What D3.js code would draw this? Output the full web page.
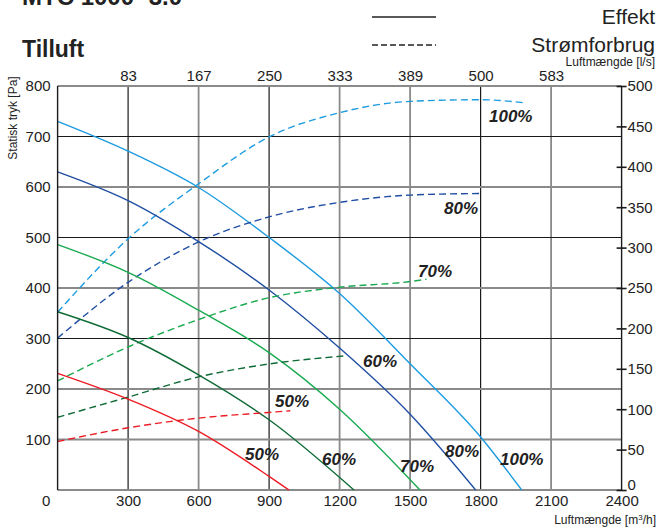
<!DOCTYPE html>
<html>
<head>
<meta charset="utf-8">
<script src="https://cdn.jsdelivr.net/npm/d3@7"></script>
<style>
  body { margin: 0; background: #fff; }
  svg text { font-family: "Liberation Sans", Arial, sans-serif; fill: #222; }
</style>
</head>
<body>
<div id="chart"></div>
<script>
// airflow in m3/h, pressure in Pa, power in W
var pressure100 = [[0,730],[300,671],[600,599],[900,500],[1200,389],[1500,250],[1800,105],[1975,0]];
var pressure80  = [[0,630],[300,573],[600,492],[900,396],[1200,281],[1500,150],[1779,0]];
var pressure70  = [[0,486],[300,431],[600,356],[900,272],[1200,160],[1542,0]];
var pressure60  = [[0,353],[300,302],[600,228],[900,139],[1261,0]];
var pressure50  = [[0,231],[300,180],[600,116],[900,27],[985,0]];

var power100 = [[0,220],[300,311],[600,379],[900,437],[1200,467],[1500,481],[1800,483],[1993,479]];
var power80  = [[0,188],[300,257],[600,307],[900,338],[1200,356],[1500,365],[1805,367]];
var power70  = [[0,135],[300,177],[600,211],[900,238],[1200,251],[1500,258],[1570,261]];
var power60  = [[0,90],[300,115],[600,140],[900,156],[1224,166]];
var power50  = [[0,60],[300,77],[600,89],[900,96],[990,98]];

var xTicks = [0,300,600,900,1200,1500,1800,2100,2400];
var topTicks = [300,600,900,1200,1500,1800,2100];
var topLabels = ["83","167","250","333","389","500","583"];
var yTicks = [100,200,300,400,500,600,700,800];
var wTicks = [0,50,100,150,200,250,300,350,400,450,500];

var curves = [
  {name:"100%", color:"#1c9be0", p:pressure100, w:power100},
  {name:"80%",  color:"#1f4ea2", p:pressure80,  w:power80},
  {name:"70%",  color:"#19aa50", p:pressure70,  w:power70},
  {name:"60%",  color:"#0e6b36", p:pressure60,  w:power60},
  {name:"50%",  color:"#ec1c24", p:pressure50,  w:power50}
];

var width = 659, height = 530;
var svg = d3.select("#chart").append("svg")
  .attr("width", width).attr("height", height);

var x = d3.scaleLinear().domain([0, 2400]).range([57.6, 621.6]);
var y = d3.scaleLinear().domain([0, 800]).range([490, 86]);
var yW = d3.scaleLinear().domain([0, 500]).range([490, 86]);

// grid
var darkV = [300, 900, 1800];
svg.append("g").selectAll("line")
  .data(topTicks).enter().append("line")
  .attr("x1", function(d){ return x(d); }).attr("x2", function(d){ return x(d); })
  .attr("y1", y(800)).attr("y2", y(0))
  .attr("stroke", function(d){ return darkV.indexOf(d) >= 0 ? "#1a1a1a" : "#8a8a8a"; })
  .attr("stroke-width", function(d){ return darkV.indexOf(d) >= 0 ? 1.2 : 1.8; });

var darkH = [300, 500, 700];
svg.append("g").selectAll("line")
  .data([0].concat(yTicks)).enter().append("line")
  .attr("x1", x(0)).attr("x2", x(2400))
  .attr("y1", function(d){ return y(d); }).attr("y2", function(d){ return y(d); })
  .attr("stroke", function(d){ return darkH.indexOf(d) >= 0 ? "#1a1a1a" : "#8a8a8a"; })
  .attr("stroke-width", function(d){ return darkH.indexOf(d) >= 0 ? 1.2 : 1.8; });

// curves
var line = d3.line()
  .x(function(d){ return x(d[0]); })
  .curve(d3.curveMonotoneX);

curves.forEach(function(c) {
  svg.append("path")
    .attr("d", line.y(function(d){ return y(d[1]); })(c.p))
    .attr("fill", "none").attr("stroke", c.color).attr("stroke-width", 1.4);
  svg.append("path")
    .attr("d", line.y(function(d){ return yW(d[1]); })(c.w))
    .attr("fill", "none").attr("stroke", c.color).attr("stroke-width", 1.4)
    .attr("stroke-dasharray", "7,4");
});

// axes lines
svg.append("line").attr("x1", x(0)).attr("x2", x(0)).attr("y1", y(800)).attr("y2", y(0))
  .attr("stroke", "#1a1a1a").attr("stroke-width", 1.4);
svg.append("line").attr("x1", x(2400)).attr("x2", x(2400)).attr("y1", y(800)).attr("y2", y(0))
  .attr("stroke", "#1a1a1a").attr("stroke-width", 1.4);

// left axis
var leftAxis = svg.append("g").attr("transform", "translate(" + x(0) + ",0)")
  .call(d3.axisLeft(y).tickValues(yTicks).tickSize(0).tickPadding(7));
leftAxis.select(".domain").remove();
leftAxis.selectAll("text").style("font-size", "15px").attr("fill", "#222")
  .style("font-family", "Liberation Sans, Arial, sans-serif");

// right axis
var rightAxis = svg.append("g").attr("transform", "translate(" + x(2400) + ",0)")
  .call(d3.axisRight(yW).tickValues(wTicks).tickSize(5).tickPadding(1));
rightAxis.select(".domain").remove();
rightAxis.selectAll(".tick line").attr("x1", -5).attr("stroke", "#1a1a1a").attr("stroke-width", 1.6);
rightAxis.selectAll("text").style("font-size", "15px").attr("fill", "#222")
  .style("font-family", "Liberation Sans, Arial, sans-serif")
  .attr("dy", function(d){ return d === 0 ? "-0.05em" : "0.32em"; });

// bottom axis
var bottomAxis = svg.append("g").attr("transform", "translate(0," + y(0) + ")")
  .call(d3.axisBottom(x).tickValues(xTicks).tickSize(0).tickPadding(5)
    .tickFormat(d3.format("d")));
bottomAxis.select(".domain").remove();
bottomAxis.selectAll("text").style("font-size", "15px").attr("fill", "#222")
  .style("font-family", "Liberation Sans, Arial, sans-serif")
  .attr("dx", function(d){ return d === 0 ? "-12px" : 0; });

// top axis (l/s)
var topAxis = svg.append("g").attr("transform", "translate(0," + y(800) + ")")
  .call(d3.axisTop(x).tickValues(topTicks).tickSize(0).tickPadding(5)
    .tickFormat(function(d, i){ return topLabels[i]; }));
topAxis.select(".domain").remove();
topAxis.selectAll("text").style("font-size", "15px").attr("fill", "#222")
  .style("font-family", "Liberation Sans, Arial, sans-serif");

// curve labels
var pctLabels = [
  {t:"100%", x:489, y:122}, {t:"80%", x:444, y:214}, {t:"70%", x:418, y:277},
  {t:"60%", x:363, y:367}, {t:"50%", x:275, y:407},
  {t:"50%", x:245, y:460}, {t:"60%", x:322, y:465}, {t:"70%", x:400, y:472},
  {t:"80%", x:445, y:457}, {t:"100%", x:500, y:465}
];
svg.append("g").selectAll("text").data(pctLabels).enter().append("text")
  .attr("x", function(d){ return d.x; }).attr("y", function(d){ return d.y; })
  .style("font-size", "17px").style("font-weight", "bold").style("font-style", "italic")
  .text(function(d){ return d.t; });

// titles
svg.append("text").attr("x", 22).attr("y", 5)
  .style("font-size", "24px").style("font-weight", "bold").text("MTC 1000 -3.0");
svg.append("text").attr("x", 22).attr("y", 57)
  .style("font-size", "23px").style("font-weight", "bold").text("Tilluft");

// legend
svg.append("line").attr("x1", 372).attr("x2", 436).attr("y1", 17).attr("y2", 17)
  .attr("stroke", "#222").attr("stroke-width", 1.4);
svg.append("line").attr("x1", 372).attr("x2", 436).attr("y1", 45).attr("y2", 45)
  .attr("stroke", "#222").attr("stroke-width", 1.4).attr("stroke-dasharray", "6,3");
svg.append("text").attr("x", 655).attr("y", 24).attr("text-anchor", "end")
  .style("font-size", "21px").text("Effekt");
svg.append("text").attr("x", 655).attr("y", 52).attr("text-anchor", "end")
  .style("font-size", "21px").text("Strømforbrug");

// axis titles
svg.append("text").attr("x", 655).attr("y", 66).attr("text-anchor", "end")
  .style("font-size", "12px").text("Luftmængde [l/s]");
var bt = svg.append("text").attr("x", 656).attr("y", 524).attr("text-anchor", "end")
  .style("font-size", "12px");
bt.append("tspan").text("Luftmængde [m");
bt.append("tspan").attr("dy", -4).style("font-size", "8px").text("3");
bt.append("tspan").attr("dy", 4).text("/h]");
svg.append("text").attr("transform", "translate(17,118) rotate(-90)")
  .attr("text-anchor", "middle").style("font-size", "12px").text("Statisk tryk [Pa]");
</script>
</body>
</html>
